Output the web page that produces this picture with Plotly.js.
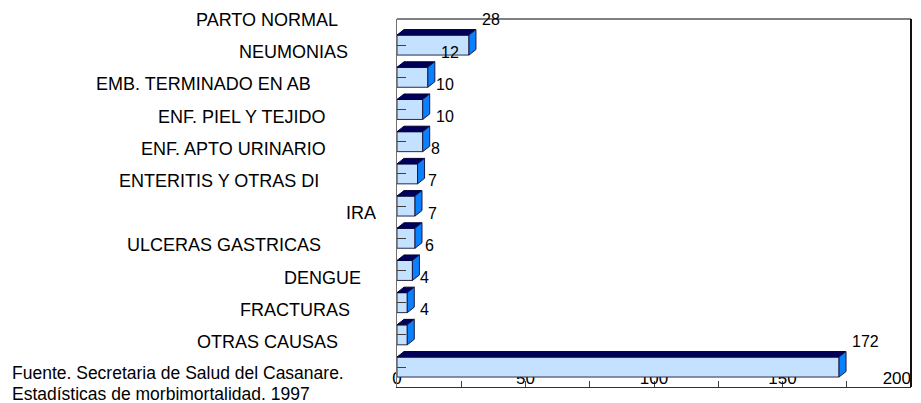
<!DOCTYPE html>
<html>
<head>
<meta charset="utf-8">
<script src="https://cdn.plot.ly/plotly-3.0.1.min.js"></script>
<style>html,body{margin:0;padding:0;background:#fff;}#chart{width:921px;height:403px;}</style>
</head>
<body>
<div id="chart"></div>
<script>
// ---- data ----
const categories = ["PARTO NORMAL","NEUMONIAS","EMB. TERMINADO EN AB","ENF. PIEL Y TEJIDO",
  "ENF. APTO URINARIO","ENTERITIS Y OTRAS DI","IRA","ULCERAS GASTRICAS","DENGUE","FRACTURAS","OTRAS CAUSAS"];
const values = [28, 12, 10, 10, 8, 7, 7, 6, 4, 4, 172];
const xTickValues = [0, 50, 100, 150];
const xLastTick = [200];
const footnote = ["Fuente. Secretaria de Salud del Casanare.", "Estadísticas de morbimortalidad. 1997"];

// ---- layout / style constants ----
const labelRightPx = [340, 350, 313, 327, 328, 321, 378, 323, 363, 352, 340]; // right edge of each category label (px)
const FONT = "Liberation Sans, Arial, sans-serif";
const plotL = 397, plotR = 10, plotT = 19, plotB = 16;
const W = 921, H = 403;
const xRange = [0, 200];
const yRange = [10.62, -0.81];
const barHalf = 0.31;          // half of front-face height in slot units
const depthPx = [7, 5.5];      // 3D depth offset in px (right, up)
const labelShift = -0.78;      // labels sit above their bar (slot units)

const plotW = W - plotL - plotR, plotH = H - plotT - plotB;
const pxPerX = plotW / (xRange[1] - xRange[0]);
const pxPerY = plotH / Math.abs(yRange[0] - yRange[1]);
const dX = depthPx[0] / pxPerX, dY = depthPx[1] / pxPerY;

const idx = values.map((_, i) => i);

// top and side faces as closed polygons built from the values
const topX = [], topY = [], sideX = [], sideY = [];
values.forEach((v, i) => {
  const yt = i - barHalf, yb = i + barHalf;
  topX.push(0, v, v + dX, dX, 0, null);
  topY.push(yt, yt, yt - dY, yt - dY, yt, null);
  sideX.push(v, v + dX, v + dX, v, v, null);
  sideY.push(yt, yt - dY, yb - dY, yb, yt, null);
});

const traces = [
  { type: "bar", orientation: "h", x: values, y: idx, width: barHalf * 2,
    marker: { color: "#C4E2FF", line: { color: "#2a2a48", width: 1 } },
    hoverinfo: "skip", showlegend: false },
  { type: "scatter", mode: "lines", x: topX, y: topY, fill: "toself", fillcolor: "#00005A",
    line: { color: "#00003a", width: 1 }, hoverinfo: "skip", showlegend: false },
  { type: "scatter", mode: "lines", x: sideX, y: sideY, xaxis: "x2", yaxis: "y", fill: "toself", fillcolor: "#0A80FF",
    line: { color: "#1a1a40", width: 1 }, hoverinfo: "skip", showlegend: false }
];

const annotations = [];
categories.forEach((c, i) => {
  annotations.push({ text: c, xref: "paper", x: 0, xanchor: "right", xshift: labelRightPx[i] - plotL,
    yref: "y", y: i + labelShift, yanchor: "middle", showarrow: false,
    font: { family: FONT, size: 18, color: "#000" } });
});
values.forEach((v, i) => {
  annotations.push({ text: String(v), xref: "x", x: v, xanchor: "left", xshift: 11,
    yref: "y", y: i + labelShift, yanchor: "middle", showarrow: false,
    font: { family: FONT, size: 16, color: "#000" } });
});
footnote.forEach((t, k) => {
  annotations.push({ text: t, xref: "paper", x: 0, xanchor: "left", xshift: 10 - plotL,
    yref: "paper", y: k === 0 ? 0.038 : -0.019, yanchor: "middle", align: "left", showarrow: false,
    font: { family: FONT, size: 17.5, color: "#000" } });
});

const tickFont = { family: FONT, size: 17, color: "#000" };
const layout = {
  width: W, height: H,
  margin: { l: plotL, r: plotR, t: plotT, b: plotB, pad: 0 },
  paper_bgcolor: "#fff", plot_bgcolor: "#fff",
  showlegend: false,
  font: { family: FONT, size: 17, color: "#000" },
  xaxis: { range: xRange, tickvals: xTickValues, ticks: "inside", ticklen: 6, tickcolor: "#404040",
    minor: { dtick: 25, tick0: 0, ticks: "inside", ticklen: 6, tickcolor: "#404040" },
    showline: true, linecolor: "#303030", linewidth: 1, showgrid: false, zeroline: false,
    ticklabelposition: "inside", ticklabeloverflow: "allow", ticklabelstandoff: -6,
    layer: "below traces", tickfont: tickFont },
  xaxis2: { overlaying: "x", matches: "x", anchor: "y", side: "bottom", range: xRange,
    tickvals: xLastTick, ticks: "", showline: false, showgrid: false, zeroline: false,
    ticklabelposition: "inside left", ticklabeloverflow: "allow", ticklabelstandoff: -6,
    layer: "below traces", tickfont: tickFont },
  yaxis: { range: yRange, tickvals: idx, ticks: "inside", ticklen: 9, tickcolor: "#404040",
    showticklabels: false, showline: true, linecolor: "#707070", linewidth: 1,
    showgrid: false, zeroline: false, layer: "above traces" },
  shapes: [
    { type: "line", xref: "paper", yref: "paper", x0: 0, x1: 1, y0: 1, y1: 1, line: { color: "#808080", width: 2 } },
    { type: "line", xref: "paper", yref: "paper", x0: 1, x1: 1, y0: 0, y1: 1, line: { color: "#111", width: 2 } }
  ],
  annotations: annotations
};

Plotly.newPlot("chart", traces, layout, { staticPlot: true, displayModeBar: false });
</script>
</body>
</html>
